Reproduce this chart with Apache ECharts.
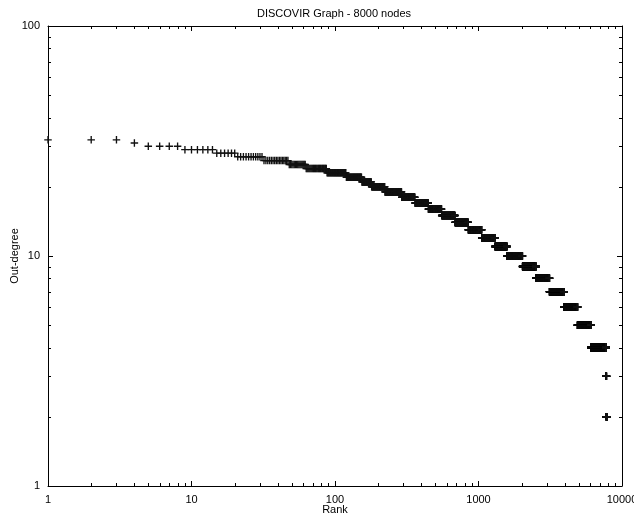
<!DOCTYPE html>
<html>
<head>
<meta charset="utf-8">
<script src="https://cdn.jsdelivr.net/npm/echarts@6/dist/echarts.min.js"></script>
<style>
  html, body { margin: 0; padding: 0; background: #fff; }
  #chart { width: 634px; height: 521px; }
</style>
</head>
<body>
<div id="chart"></div>
<script>
// ---- Data ----
// Out-degree levels, from highest to lowest
const degreeLevels = [32, 31, 30, 29, 28, 27, 26, 25, 24, 23, 22, 21, 20, 19, 18, 17, 16, 15, 14, 13, 12, 11, 10, 9, 8, 7, 6, 5, 4, 3, 2];
// First rank at which each degree level appears
const levelFirstRank = [1, 4, 5, 9, 15, 21, 32, 48, 63, 88, 120, 154, 180, 223, 292, 361, 447, 554, 686, 849, 1053, 1303, 1580, 2026, 2516, 3124, 3943, 4897, 6081, 7720, 7790];
// Last rank shown
const lastRank = 7850;

// Axis tick values
const xMajorTicks = [1, 10, 100, 1000, 10000];
const xMinorTicks = [2, 3, 4, 5, 6, 7, 8, 9, 20, 30, 40, 50, 60, 70, 80, 90, 200, 300, 400, 500, 600, 700, 800, 900, 2000, 3000, 4000, 5000, 6000, 7000, 8000, 9000];
const yMajorTicks = [1, 10, 100];
const yMinorTicks = [2, 3, 4, 5, 6, 7, 8, 9, 20, 30, 40, 50, 60, 70, 80, 90];

// ---- Build point list: every rank gets the degree of its level ----
const points = [];
for (let i = 0; i < degreeLevels.length; i++) {
  const from = levelFirstRank[i];
  const to = (i + 1 < levelFirstRank.length) ? levelFirstRank[i + 1] - 1 : lastRank;
  for (let r = from; r <= to; r++) points.push([r, degreeLevels[i]]);
}

const FONT = 'Liberation Sans, Arial, Helvetica, sans-serif';
const X_MIN = xMajorTicks[0], X_MAX = xMajorTicks[xMajorTicks.length - 1];
const Y_MIN = yMajorTicks[0], Y_MAX = yMajorTicks[yMajorTicks.length - 1];
const MINOR_LEN = 3;

const plusPath = 'path://M4.1,0 L5.9,0 L5.9,4.1 L10,4.1 L10,5.9 L5.9,5.9 L5.9,10 L4.1,10 L4.1,5.9 L0,5.9 L0,4.1 L4.1,4.1 Z';

function xMinorRender(params, api) {
  const v = api.value(0);
  const b = api.coord([v, Y_MIN]);
  const t = api.coord([v, Y_MAX]);
  const x = Math.round(b[0]) + 0.5;
  return {
    type: 'group',
    children: [
      { type: 'line', shape: { x1: x, y1: b[1], x2: x, y2: b[1] - MINOR_LEN }, style: { stroke: '#000', lineWidth: 1 } },
      { type: 'line', shape: { x1: x, y1: t[1], x2: x, y2: t[1] + MINOR_LEN }, style: { stroke: '#000', lineWidth: 1 } }
    ]
  };
}
function yMinorRender(params, api) {
  const v = api.value(1);
  const l = api.coord([X_MIN, v]);
  const r = api.coord([X_MAX, v]);
  const y = Math.round(l[1]) + 0.5;
  return {
    type: 'group',
    children: [
      { type: 'line', shape: { x1: l[0], y1: y, x2: l[0] + MINOR_LEN, y2: y }, style: { stroke: '#000', lineWidth: 1 } },
      { type: 'line', shape: { x1: r[0], y1: y, x2: r[0] - MINOR_LEN, y2: y }, style: { stroke: '#000', lineWidth: 1 } }
    ]
  };
}

const axisLineStyle = { show: true, lineStyle: { color: '#000', width: 1 } };
const tickStyle = { show: true, inside: true, length: 5, lineStyle: { color: '#000', width: 1 } };
const plainNum = v => String(Math.round(v));

const chart = echarts.init(document.getElementById('chart'), null, { renderer: 'canvas' });
chart.setOption({
  animation: false,
  backgroundColor: '#fff',
  title: {
    text: 'DISCOVIR Graph - 8000 nodes',
    left: 329, top: 3, textAlign: 'center',
    textStyle: { fontFamily: FONT, fontSize: 11, fontWeight: 'normal', color: '#000' }
  },
  grid: { left: 48, right: 12, top: 26, bottom: 35, containLabel: false, outerBoundsMode: 'none' },
  xAxis: [
    {
      type: 'log', logBase: 10, min: X_MIN, max: X_MAX, position: 'bottom',
      axisLine: axisLineStyle, axisTick: tickStyle,
      axisLabel: { color: '#000', fontFamily: FONT, fontSize: 11, margin: 8, formatter: plainNum, hideOverlap: false },
      splitLine: { show: false },
      name: 'Rank', nameLocation: 'middle', nameGap: 18, nameMoveOverlap: false,
      nameTextStyle: { fontFamily: FONT, fontSize: 11, color: '#000' }
    },
    {
      type: 'log', logBase: 10, min: X_MIN, max: X_MAX, position: 'top',
      axisLine: axisLineStyle, axisTick: tickStyle,
      axisLabel: { show: false }, splitLine: { show: false }
    }
  ],
  yAxis: [
    {
      type: 'log', logBase: 10, min: Y_MIN, max: Y_MAX, position: 'left',
      axisLine: axisLineStyle, axisTick: tickStyle,
      axisLabel: { color: '#000', fontFamily: FONT, fontSize: 11, margin: 8, formatter: plainNum },
      splitLine: { show: false },
      name: 'Out-degree', nameLocation: 'middle', nameGap: 28, nameRotate: 90, nameMoveOverlap: false,
      nameTextStyle: { fontFamily: FONT, fontSize: 11, color: '#000' }
    },
    {
      type: 'log', logBase: 10, min: Y_MIN, max: Y_MAX, position: 'right',
      axisLine: axisLineStyle, axisTick: tickStyle,
      axisLabel: { show: false }, splitLine: { show: false }
    }
  ],
  series: [
    {
      type: 'custom', name: 'xminor', renderItem: xMinorRender,
      data: xMinorTicks.map(v => [v, Y_MIN]), silent: true, clip: false, z: 1
    },
    {
      type: 'custom', name: 'yminor', renderItem: yMinorRender,
      data: yMinorTicks.map(v => [X_MIN, v]), silent: true, clip: false, z: 1
    },
    {
      type: 'scatter', name: 'Out-degree',
      data: points,
      symbol: plusPath, symbolSize: 7.5,
      itemStyle: { color: '#111', opacity: 1 },
      large: false, silent: true, z: 3
    }
  ]
});
</script>
</body>
</html>
